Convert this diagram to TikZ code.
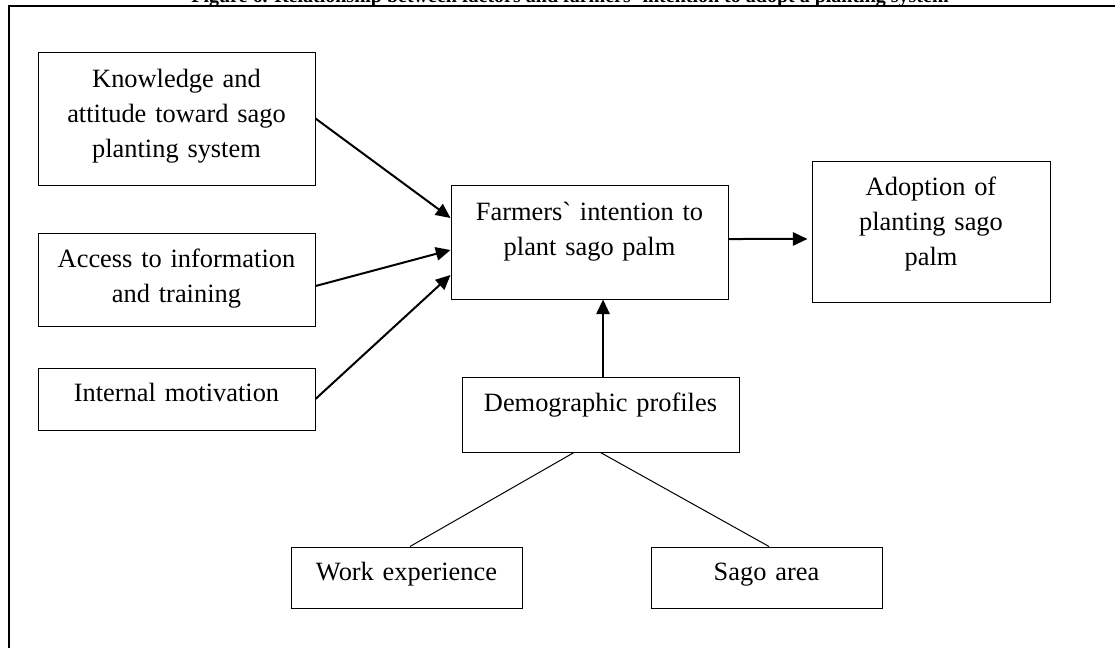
\documentclass[tikz,border=0pt]{standalone}
\usepackage{fontspec}
\setmainfont{Liberation Serif}[Ligatures=TeXOff]
\usetikzlibrary{arrows.meta}
\tikzset{
  boxnode/.style={draw, line width=0.75pt, rectangle, inner sep=0pt, align=center,
    font=\fontsize{19.8pt}{26.25pt}\selectfont},
  arr/.style={line width=1.5pt, -{Triangle[length=11pt,width=10pt]}},
  thin link/.style={line width=0.75pt},
  frame/.style={line width=1.65pt, line join=miter},
  titlefont/.style={font=\fontsize{15pt}{18pt}\selectfont\bfseries}
}
\begin{document}
\begin{tikzpicture}[x=0.75pt,y=-0.75pt]
\useasboundingbox (0,0) rectangle (1115,647);
% frame and title
\coordinate (fr1) at (1116,6);
\coordinate (fr2) at (9,6);
\coordinate (fr3) at (9,650);
\draw[frame] (fr1) -- (fr2) -- (fr3);
\node[titlefont, anchor=base, inner sep=0pt] (title) at (570,2.5) {Figure 6. Relationship between factors and farmers` intention to adopt a planting system};
% boxes
\node[boxnode, minimum width=207.75pt, minimum height=99.75pt, text width=192.75pt, text height=0pt, text depth=47.25pt] (K) at (176.5,118.5) {Knowledge and\\attitude toward sago\\planting system};
\node[boxnode, minimum width=207.75pt, minimum height=69.75pt, text width=192.75pt, text height=0pt, text depth=18pt] (A) at (176.5,279.5) {Access to information\\and training};
\node[boxnode, minimum width=207.75pt, minimum height=46.5pt, text width=192.75pt, text height=4pt, text depth=0pt] (I) at (176.5,399) {Internal motivation};
\node[boxnode, minimum width=207.75pt, minimum height=85.5pt, text width=192.75pt, text height=0pt, text depth=33pt] (F) at (589.5,242) {Farmers` intention to\\plant sago palm};
\node[boxnode, minimum width=207.75pt, minimum height=56.25pt, text width=192.75pt, text height=0pt, text depth=4.2pt] (D) at (600.5,414.5) {Demographic profiles};
\node[boxnode, minimum width=178.5pt, minimum height=105.75pt, text width=163.5pt, text height=0pt, text depth=54.75pt] (Ad) at (931,231.5) {Adoption of\\planting sago\\palm};
\node[boxnode, minimum width=173.25pt, minimum height=45.75pt, text width=158pt, text height=3.75pt, text depth=0pt] (W) at (406.5,577.5) {Work experience};
\node[boxnode, minimum width=173.25pt, minimum height=45.75pt, text width=158pt, text height=3.75pt, text depth=0pt] (S) at (766.5,577.5) {Sago area};
% arrows into F
\draw[arr] (K.east) -- ([yshift=18pt]F.west);
\draw[arr] ([yshift=-4.9pt]A.east) -- ([yshift=-6pt]F.west);
\draw[arr] (I.east) -- ([yshift=-24.75pt]F.west);
\draw[arr, shorten >=3pt] ([yshift=2.25pt]F.east) -- ([yshift=-5.6pt]Ad.west);
\coordinate (va) at ([xshift=1.9pt]D.north);
\draw[arr] (va) -- (va |- F.south);
% links to demographic profiles
\draw[thin link] ([xshift=-19.9pt]D.south) -- ([xshift=2.6pt]W.north);
\draw[thin link] (D.south) -- ([xshift=1.9pt]S.north);
\end{tikzpicture}
\end{document}
